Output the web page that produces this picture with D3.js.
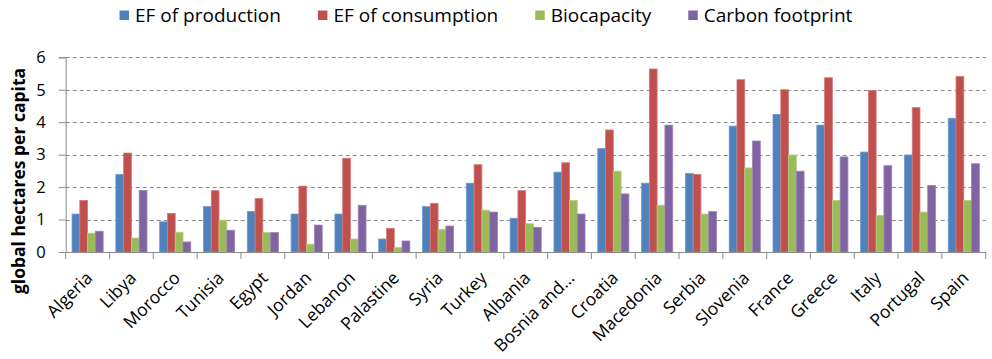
<!DOCTYPE html>
<html>
<head>
<meta charset="utf-8">
<script src="https://cdn.jsdelivr.net/npm/d3@7"></script>
<style>
  html, body { margin: 0; padding: 0; background: #fff; }
  svg { display: block; }
  text { font-family: "Open Sans", "Liberation Sans", sans-serif; fill: #000; }
</style>
</head>
<body>
<svg id="chart" width="992" height="359"></svg>
<script>
const categories = ["Algeria","Libya","Morocco","Tunisia","Egypt","Jordan","Lebanon","Palastine","Syria","Turkey","Albania","Bosnia and...","Croatia","Macedonia","Serbia","Slovenia","France","Greece","Italy","Portugal","Spain"];
const seriesNames = ["EF of production","EF of consumption","Biocapacity","Carbon footprint"];
const efProduction  = [1.17,2.39,0.93,1.40,1.25,1.17,1.17,0.40,1.40,2.12,1.04,2.46,3.19,2.12,2.42,3.88,4.24,3.91,3.08,2.99,4.12];
const efConsumption = [1.59,3.05,1.19,1.89,1.65,2.03,2.89,0.73,1.50,2.69,1.89,2.75,3.76,5.64,2.39,5.31,5.00,5.37,4.98,4.45,5.41];
const biocapacity   = [0.58,0.43,0.61,0.98,0.60,0.24,0.40,0.14,0.70,1.29,0.87,1.59,2.49,1.44,1.17,2.59,2.99,1.59,1.13,1.23,1.59];
const carbonFootprint = [0.64,1.90,0.31,0.67,0.60,0.83,1.44,0.34,0.80,1.23,0.76,1.17,1.79,3.91,1.25,3.42,2.49,2.93,2.66,2.05,2.72];
const yTicks = [0,1,2,3,4,5,6];
const yTitle = "global hectares per capita";

const seriesValues = [efProduction, efConsumption, biocapacity, carbonFootprint];
const colors = ["#4F81BD","#C0504D","#9BBB59","#8064A2"];
const strokes = ["#6f9ad0","#d67a78","#b3cf7f","#9a82bb"];

const svg = d3.select("#chart");
const mLeft = 65.7, mRight = 985.7, mTop = 57.3, mBottom = 252;

const x = d3.scaleBand().domain(categories).range([mLeft, mRight]).paddingInner(0).paddingOuter(0);
const bw = x.bandwidth();
const xs = d3.scaleBand().domain(seriesNames).range([bw * 0.145, bw * 0.855]).padding(0);
const y = d3.scaleLinear().domain([0, 6]).range([mBottom, mTop]);

// gridlines
svg.append("g").selectAll("line").data(yTicks.filter(d => d > 0)).join("line")
  .attr("x1", mLeft).attr("x2", mRight)
  .attr("y1", d => Math.round(y(d)) + 0.5).attr("y2", d => Math.round(y(d)) + 0.5)
  .attr("stroke", "#8a8a8a").attr("stroke-width", 1).attr("stroke-dasharray", "4,3");

// bars
const table = [];
categories.forEach((c, i) => seriesNames.forEach((s, j) => table.push({c, s, j, v: seriesValues[j][i]})));
svg.append("g").selectAll("rect").data(table).join("rect")
  .attr("x", d => x(d.c) + xs(d.s))
  .attr("y", d => y(d.v))
  .attr("width", xs.bandwidth())
  .attr("height", d => y(0) - y(d.v))
  .attr("fill", d => colors[d.j])
  .attr("stroke", d => strokes[d.j])
  .attr("stroke-width", 0.8);

// y axis
const yAxis = svg.append("g").attr("transform", `translate(${mLeft},0)`)
  .call(d3.axisLeft(y).tickValues(yTicks).tickSize(7).tickPadding(13).tickFormat(d3.format("d")));
yAxis.select(".domain").attr("stroke", "#8a8a8a");
yAxis.selectAll(".tick line").attr("stroke", "#8a8a8a");
yAxis.selectAll("text").attr("font-size", 16.5).attr("font-family", "Open Sans").attr("fill", "#000");

// x axis
const xAxis = svg.append("g").attr("transform", `translate(0,${mBottom})`);
xAxis.append("line").attr("x1", mLeft).attr("x2", mRight).attr("y1", 0.5).attr("y2", 0.5).attr("stroke", "#8a8a8a");
const boundaries = categories.map(c => x(c)).concat([mRight]);
xAxis.selectAll("line.tk").data(boundaries).join("line").attr("class", "tk")
  .attr("x1", d => d).attr("x2", d => d).attr("y1", 0).attr("y2", 7).attr("stroke", "#8a8a8a");
xAxis.selectAll("text").data(categories).join("text")
  .attr("transform", d => `translate(${x(d) + bw / 2 + 6},${27}) rotate(-45)`)
  .attr("text-anchor", "end")
  .attr("font-size", 17.5)
  .text(d => d);

// y title
svg.append("text")
  .attr("transform", `translate(25,181) rotate(-90)`)
  .attr("text-anchor", "middle")
  .attr("font-weight", "bold")
  .attr("font-size", 17.5)
  .text(yTitle);

// legend
const legend = svg.append("g");
let lx = 119.5;
seriesNames.forEach((s, j) => {
  legend.append("rect").attr("x", lx).attr("y", 10.5).attr("width", 9.5).attr("height", 9.5).attr("fill", colors[j]);
  const t = legend.append("text").attr("x", lx + 15.5).attr("y", 21.5).attr("font-size", 19).text(s);
  lx += 15.5 + t.node().getComputedTextLength() + 37;
});
</script>
</body>
</html>
